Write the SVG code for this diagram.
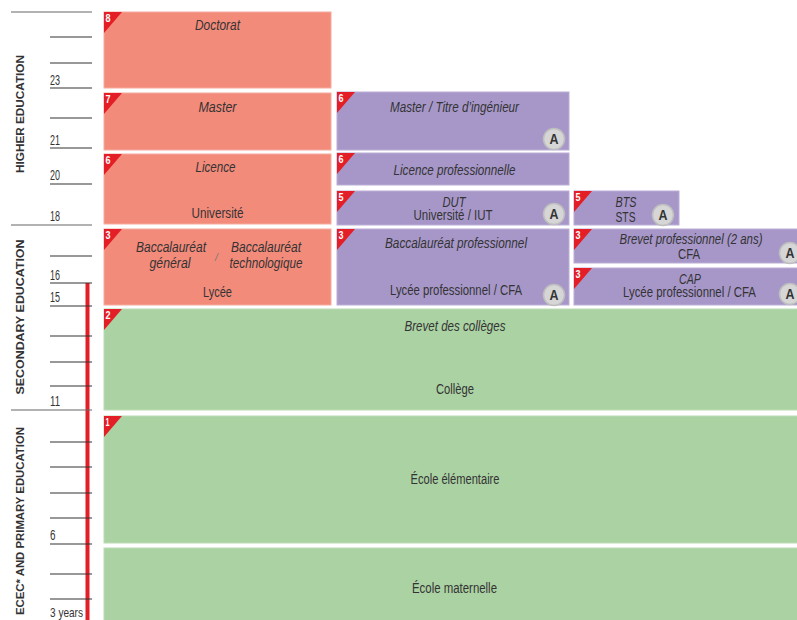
<svg xmlns="http://www.w3.org/2000/svg" width="797" height="620" viewBox="0 0 797 620">
<style>
text{font-family:"Liberation Sans",Arial,sans-serif;fill:#333}
.t{font-size:14px;text-anchor:middle}
.i{font-style:italic}
.num{font-size:10px;font-weight:bold;fill:#fff}
.age{font-size:14px}
.sec{font-size:11px;font-weight:bold;text-anchor:middle}
.hi{fill:#F38B7B;stroke:#F6AA9E;stroke-width:1}
.pu{fill:#A797C9;stroke:#BBAED6;stroke-width:1}
.gr{fill:#ABD2A3;stroke:#BCDCB5;stroke-width:1}
.tri{fill:#E41E26}
.ab circle{fill:#D6D6D6;stroke:#BEBEBE;stroke-width:1.5}
.ab text{font-size:14px;font-weight:bold;text-anchor:middle;fill:#333}
.tk{stroke:#333;stroke-width:1.2}
.lg{stroke:#666;stroke-width:1.2}
</style>
<rect width="797" height="620" fill="#fff"/>

<g id="axis">
<rect x="85.5" y="283" width="4" height="340" fill="#E41E26"/>
<line class="lg" x1="11" y1="12" x2="92" y2="12"/>
<line class="tk" x1="50" y1="37" x2="92" y2="37"/>
<line class="tk" x1="50" y1="63" x2="92" y2="63"/>
<line class="tk" x1="50" y1="88" x2="92" y2="88"/>
<line class="tk" x1="50" y1="118" x2="92" y2="118"/>
<line class="tk" x1="50" y1="148" x2="92" y2="148"/>
<line class="tk" x1="50" y1="184" x2="92" y2="184"/>
<line class="lg" x1="11" y1="225" x2="92" y2="225"/>
<line class="tk" x1="50" y1="256" x2="92" y2="256"/>
<line class="tk" x1="50" y1="283" x2="92" y2="283"/>
<line class="tk" x1="50" y1="306" x2="92" y2="306"/>
<line class="tk" x1="50" y1="336" x2="92" y2="336"/>
<line class="tk" x1="50" y1="362" x2="92" y2="362"/>
<line class="tk" x1="50" y1="386" x2="92" y2="386"/>
<line class="lg" x1="11" y1="410" x2="92" y2="410"/>
<line class="tk" x1="50" y1="442" x2="92" y2="442"/>
<line class="tk" x1="50" y1="467" x2="92" y2="467"/>
<line class="tk" x1="50" y1="493" x2="92" y2="493"/>
<line class="tk" x1="50" y1="518" x2="92" y2="518"/>
<line class="tk" x1="50" y1="544" x2="92" y2="544"/>
<line class="tk" x1="50" y1="574" x2="92" y2="574"/>
<line class="tk" x1="50" y1="599" x2="92" y2="599"/>
<text class="age" x="50" y="85" textLength="10" lengthAdjust="spacingAndGlyphs">23</text>
<text class="age" x="50" y="145" textLength="10" lengthAdjust="spacingAndGlyphs">21</text>
<text class="age" x="50" y="180" textLength="10" lengthAdjust="spacingAndGlyphs">20</text>
<text class="age" x="50" y="221" textLength="10" lengthAdjust="spacingAndGlyphs">18</text>
<text class="age" x="50" y="280" textLength="10" lengthAdjust="spacingAndGlyphs">16</text>
<text class="age" x="50" y="302" textLength="10" lengthAdjust="spacingAndGlyphs">15</text>
<text class="age" x="50" y="406" textLength="10" lengthAdjust="spacingAndGlyphs">11</text>
<text class="age" x="50" y="540" textLength="5.5" lengthAdjust="spacingAndGlyphs">6</text>
<text class="age" x="50" y="617" textLength="33" lengthAdjust="spacingAndGlyphs" style="font-size:13px">3 years</text>
<text class="sec" transform="translate(23.5,114) rotate(-90)" textLength="118" lengthAdjust="spacingAndGlyphs">HIGHER EDUCATION</text>
<text class="sec" transform="translate(23.5,317) rotate(-90)" textLength="155" lengthAdjust="spacingAndGlyphs">SECONDARY EDUCATION</text>
<text class="sec" transform="translate(23.5,521) rotate(-90)" textLength="188" lengthAdjust="spacingAndGlyphs">ECEC* AND PRIMARY EDUCATION</text>
</g>

<g id="doctorat">
<rect class="hi" x="104" y="12" width="227" height="76"/>
<polygon class="tri" points="104,12 122,12 104,33"/>
<text class="num" x="105.5" y="22" textLength="5" lengthAdjust="spacingAndGlyphs">8</text>
<text class="t i" x="217.5" y="30" textLength="45" lengthAdjust="spacingAndGlyphs">Doctorat</text>
</g>

<g id="master">
<rect class="hi" x="104" y="93" width="227" height="57"/>
<polygon class="tri" points="104,93 122,93 104,114"/>
<text class="num" x="105.5" y="103" textLength="5" lengthAdjust="spacingAndGlyphs">7</text>
<text class="t i" x="217.5" y="112" textLength="38" lengthAdjust="spacingAndGlyphs">Master</text>
</g>

<g id="licence">
<rect class="hi" x="104" y="154" width="227" height="70"/>
<polygon class="tri" points="104,154 122,154 104,175"/>
<text class="num" x="105.5" y="164" textLength="5" lengthAdjust="spacingAndGlyphs">6</text>
<text class="t i" x="215.5" y="172" textLength="40" lengthAdjust="spacingAndGlyphs">Licence</text>
<text class="t" x="217.5" y="218" textLength="52" lengthAdjust="spacingAndGlyphs">Université</text>
</g>

<g id="baccalaureat">
<rect class="hi" x="104" y="229" width="227" height="76"/>
<polygon class="tri" points="104,229 122,229 104,250"/>
<text class="num" x="105.5" y="239" textLength="5" lengthAdjust="spacingAndGlyphs">3</text>
<text class="t i" x="171" y="252" textLength="70" lengthAdjust="spacingAndGlyphs">Baccalauréat</text>
<text class="t i" x="170" y="268" textLength="41" lengthAdjust="spacingAndGlyphs">général</text>
<text class="t i" x="216.5" y="261" style="font-size:10px;fill:#777">/</text>
<text class="t i" x="266" y="252" textLength="70" lengthAdjust="spacingAndGlyphs">Baccalauréat</text>
<text class="t i" x="266" y="268" textLength="73" lengthAdjust="spacingAndGlyphs">technologique</text>
<text class="t" x="217.5" y="297" textLength="29" lengthAdjust="spacingAndGlyphs">Lycée</text>
</g>

<g id="master-ingenieur">
<rect class="pu" x="337" y="92" width="232" height="58"/>
<polygon class="tri" points="337,92 355,92 337,113"/>
<text class="num" x="338.5" y="102" textLength="5" lengthAdjust="spacingAndGlyphs">6</text>
<text class="t i" x="454.5" y="112" textLength="129" lengthAdjust="spacingAndGlyphs">Master / Titre d’ingénieur</text>
<g class="ab"><circle cx="554" cy="139" r="10.5"/><text x="554" y="144" textLength="9" lengthAdjust="spacingAndGlyphs">A</text></g>
</g>

<g id="licence-pro">
<rect class="pu" x="337" y="153" width="232" height="32"/>
<polygon class="tri" points="337,153 355,153 337,174"/>
<text class="num" x="338.5" y="163" textLength="5" lengthAdjust="spacingAndGlyphs">6</text>
<text class="t i" x="454.5" y="175" textLength="122" lengthAdjust="spacingAndGlyphs">Licence professionnelle</text>
</g>

<g id="dut">
<rect class="pu" x="337" y="191" width="232" height="34"/>
<polygon class="tri" points="337,191 355,191 337,212"/>
<text class="num" x="338.5" y="201" textLength="5" lengthAdjust="spacingAndGlyphs">5</text>
<text class="t i" x="454" y="206.5" textLength="23" lengthAdjust="spacingAndGlyphs">DUT</text>
<text class="t" x="453" y="220" textLength="79" lengthAdjust="spacingAndGlyphs">Université / IUT</text>
<g class="ab"><circle cx="554" cy="214" r="10.5"/><text x="554" y="219" textLength="9" lengthAdjust="spacingAndGlyphs">A</text></g>
</g>

<g id="bac-pro">
<rect class="pu" x="337" y="229" width="232" height="76"/>
<polygon class="tri" points="337,229 355,229 337,250"/>
<text class="num" x="338.5" y="239" textLength="5" lengthAdjust="spacingAndGlyphs">3</text>
<text class="t i" x="456" y="248" textLength="142" lengthAdjust="spacingAndGlyphs">Baccalauréat professionnel</text>
<text class="t" x="456" y="295" textLength="132" lengthAdjust="spacingAndGlyphs">Lycée professionnel / CFA</text>
<g class="ab"><circle cx="554" cy="295" r="10.5"/><text x="554" y="300" textLength="9" lengthAdjust="spacingAndGlyphs">A</text></g>
</g>

<g id="bts">
<rect class="pu" x="574" y="191" width="105" height="34"/>
<polygon class="tri" points="574,191 592,191 574,212"/>
<text class="num" x="575.5" y="201" textLength="5" lengthAdjust="spacingAndGlyphs">5</text>
<text class="t i" x="626" y="207" textLength="21" lengthAdjust="spacingAndGlyphs">BTS</text>
<text class="t" x="625.5" y="221.5" textLength="20" lengthAdjust="spacingAndGlyphs">STS</text>
<g class="ab"><circle cx="663" cy="215" r="10.5"/><text x="663" y="220" textLength="9" lengthAdjust="spacingAndGlyphs">A</text></g>
</g>

<g id="brevet-pro">
<rect class="pu" x="574" y="229" width="230" height="34"/>
<polygon class="tri" points="574,229 592,229 574,250"/>
<text class="num" x="575.5" y="239" textLength="5" lengthAdjust="spacingAndGlyphs">3</text>
<text class="t i" x="691" y="244" textLength="143" lengthAdjust="spacingAndGlyphs">Brevet professionnel (2 ans)</text>
<text class="t" x="689" y="259" textLength="22" lengthAdjust="spacingAndGlyphs">CFA</text>
<g class="ab"><circle cx="790" cy="253" r="10.5"/><text x="790" y="258" textLength="9" lengthAdjust="spacingAndGlyphs">A</text></g>
</g>

<g id="cap">
<rect class="pu" x="574" y="268" width="230" height="37"/>
<polygon class="tri" points="574,268 592,268 574,289"/>
<text class="num" x="575.5" y="278" textLength="5" lengthAdjust="spacingAndGlyphs">3</text>
<text class="t i" x="690" y="283.5" textLength="22" lengthAdjust="spacingAndGlyphs">CAP</text>
<text class="t" x="689.5" y="297" textLength="133" lengthAdjust="spacingAndGlyphs">Lycée professionnel / CFA</text>
<g class="ab"><circle cx="790" cy="294" r="10.5"/><text x="790" y="299" textLength="9" lengthAdjust="spacingAndGlyphs">A</text></g>
</g>

<g id="college">
<rect class="gr" x="104" y="309" width="700" height="101"/>
<polygon class="tri" points="104,309 122,309 104,330"/>
<text class="num" x="105.5" y="319" textLength="5" lengthAdjust="spacingAndGlyphs">2</text>
<text class="t i" x="455" y="331" textLength="101" lengthAdjust="spacingAndGlyphs">Brevet des collèges</text>
<text class="t" x="455" y="394" textLength="38" lengthAdjust="spacingAndGlyphs">Collège</text>
</g>

<g id="ecole-elementaire">
<rect class="gr" x="104" y="416" width="700" height="127"/>
<polygon class="tri" points="104,416 122,416 104,437"/>
<text class="num" x="105.5" y="426" textLength="4" lengthAdjust="spacingAndGlyphs">1</text>
<text class="t" x="455" y="484" textLength="89" lengthAdjust="spacingAndGlyphs">École élémentaire</text>
</g>

<g id="ecole-maternelle">
<rect class="gr" x="104" y="548" width="700" height="80"/>
<text class="t" x="454.5" y="593" textLength="85" lengthAdjust="spacingAndGlyphs">École maternelle</text>
</g>
</svg>
